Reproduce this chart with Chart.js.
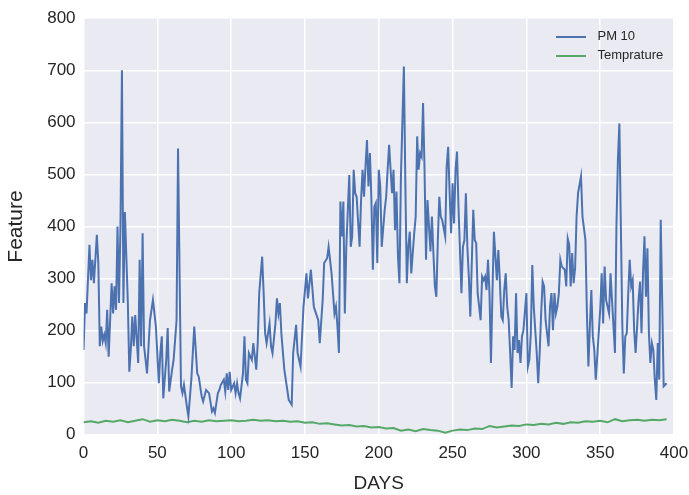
<!DOCTYPE html>
<html lang="en">

<head>
    <meta charset="UTF-8">
    <title>PM 10 y Temperatura</title>
    <script src="https://cdn.jsdelivr.net/npm/chart.js"></script>
    <style>
        body { margin: 0; background: #fff; }
        .container { width: 689px; height: 495px; }
    </style>
</head>

<body>
    <div class="container">
        <canvas id="grafica"></canvas>
    </div>

    <script>
        // PM 10 readings (day -> value)
        const days = [0,1,2,4,5,6,7,9,10,11,12,13,14,15,16,17,19,20,21,22,23,24,25,26,27,28,30,31,32,33,34,35,37,38,39,40,41,43,45,47,49,51,52,53,54,56,57,58,60,61,63,64,66,67,68,70,71,73,75,77,78,80,81,83,85,87,88,89,91,92,93,95,96,97,98,99,100,102,103,104,105,106,108,109,110,111,112,114,115,117,118,119,121,122,123,124,126,127,128,130,131,132,133,134,136,137,139,141,142,144,145,147,149,151,152,154,156,157,159,160,162,163,165,166,168,170,171,172,173,174,175,176,177,178,180,181,182,183,184,185,187,188,189,190,191,192,193,194,195,196,197,198,199,200,201,202,204,205,206,207,208,209,210,211,212,213,214,215,217,218,219,220,221,222,224,225,226,227,228,229,230,231,232,233,235,236,237,238,239,240,241,242,243,245,246,247,248,249,250,251,252,253,254,256,257,258,259,260,261,262,264,265,266,267,269,270,271,272,273,274,275,276,277,278,280,281,282,283,284,285,286,287,288,289,290,291,292,293,294,295,296,297,298,300,301,302,303,304,305,307,308,309,310,311,312,313,315,316,317,318,319,320,321,322,323,324,326,327,328,329,330,331,332,333,334,335,337,338,340,341,342,343,344,345,346,347,349,350,351,352,353,354,356,357,358,359,360,361,362,363,364,365,366,367,368,369,370,371,372,373,374,375,376,377,378,379,380,381,382,383,384,385,386,387,388,389,390,391,392,393,394,395];
        const pm10 = [163,253,233,365,297,336,291,384,330,170,208,180,192,176,240,150,291,233,285,240,400,253,400,700,253,428,253,121,163,227,170,230,138,336,170,387,170,118,220,259,208,99,157,189,70,144,205,83,125,144,220,550,93,80,96,54,35,106,208,118,112,74,64,86,80,45,51,42,80,86,96,106,83,118,86,121,86,99,80,99,80,70,118,189,106,99,157,144,176,125,176,272,342,272,195,176,214,170,157,214,262,233,253,195,125,106,67,58,157,211,157,131,246,310,262,317,246,237,220,176,259,330,339,361,310,233,246,208,157,448,381,448,233,361,499,361,381,509,464,457,361,451,509,457,515,566,477,541,451,317,438,445,330,509,477,361,432,457,509,557,509,464,509,393,467,342,291,496,707,483,291,361,390,310,387,419,573,509,541,534,637,509,336,451,352,419,349,285,265,374,457,419,412,381,515,553,464,387,483,406,509,544,438,272,361,374,464,361,304,227,432,374,368,272,220,304,297,304,278,336,272,138,272,390,297,355,297,227,220,278,310,246,220,157,90,189,163,272,157,182,138,189,201,272,131,144,195,326,246,157,99,157,233,294,285,220,170,246,272,201,272,233,246,272,336,323,317,285,377,365,285,349,291,320,419,464,496,419,374,233,131,208,278,189,163,106,195,240,310,214,323,259,233,310,259,208,157,400,528,598,400,208,118,189,195,272,336,285,297,201,157,208,259,294,195,310,381,265,358,195,138,176,163,106,67,176,106,413,259,93,96,99];

        // Temperature readings, every 5 days
        const tempDays = [0,5,10,15,20,25,30,35,40,45,50,55,60,65,70,75,80,85,90,95,100,105,110,115,120,125,130,135,140,145,150,155,160,165,170,175,180,185,190,195,200,205,210,215,220,225,230,235,240,245,250,255,260,265,270,275,280,285,290,295,300,305,310,315,320,325,330,335,340,345,350,355,360,365,370,375,380,385,390,395];
        const temperature = [24,26,23,27,25,28,24,27,30,25,28,26,29,27,24,27,25,28,26,27,28,26,27,29,27,28,26,27,25,26,23,24,21,22,20,18,19,16,17,14,15,12,13,8,10,7,11,9,8,4,8,10,9,12,11,17,14,16,18,17,20,19,21,20,23,21,24,23,26,25,27,24,30,26,28,29,27,29,28,30];

        const xTicks = [0, 50, 100, 150, 200, 250, 300, 350, 400];
        const yTicks = [0, 100, 200, 300, 400, 500, 600, 700, 800];

        const textColor = '#262626';
        const fuente = 'Liberation Sans, Arial, sans-serif';

        // muestra de linea para la leyenda (30px de largo)
        function muestraLinea(color) {
            const c = document.createElement('canvas');
            c.width = 30;
            c.height = 2;
            const g = c.getContext('2d');
            g.fillStyle = color;
            g.fillRect(0, 0, 30, 2);
            return c;
        }

        // fondo gris del area de la grafica (estilo seaborn)
        const fondoArea = {
            id: 'fondoArea',
            beforeDraw(chart) {
                const { ctx, chartArea } = chart;
                ctx.save();
                ctx.fillStyle = '#EAEAF2';
                ctx.fillRect(chartArea.left, chartArea.top, chartArea.width, chartArea.height);
                ctx.restore();
            }
        };

        // mover la leyenda a la esquina superior derecha
        const leyendaDerecha = {
            id: 'leyendaDerecha',
            afterLayout(chart) {
                const lg = chart.legend;
                const a = chart.chartArea;
                lg.left = a.right - 129;
                lg.right = lg.left + lg.width;
                lg.top = a.top + 6;
            }
        };

        const ctx = document.getElementById('grafica').getContext('2d');
        new Chart(ctx, {
            type: 'line',
            data: {
                datasets: [{
                    label: 'PM 10',
                    data: pm10.map((v, i) => ({ x: days[i], y: v })),
                    borderColor: '#4C72B0',
                    borderWidth: 2,
                    pointRadius: 0,
                    pointStyle: muestraLinea('#4C72B0'),
                    tension: 0
                }, {
                    label: 'Temprature',
                    data: temperature.map((v, i) => ({ x: tempDays[i], y: v })),
                    borderColor: '#55A868',
                    borderWidth: 2,
                    pointRadius: 0,
                    pointStyle: muestraLinea('#55A868'),
                    tension: 0
                }]
            },
            options: {
                responsive: true,
                maintainAspectRatio: false,
                animation: false,
                layout: { padding: { top: 18, right: 0, bottom: 0, left: 0 } },
                scales: {
                    x: {
                        type: 'linear',
                        min: 0,
                        max: 400,
                        afterBuildTicks: axis => { axis.ticks = xTicks.map(v => ({ value: v })); },
                        afterFit: axis => { axis.paddingRight = 15; },
                        ticks: { color: textColor, font: { family: fuente, size: 17 }, padding: 8, maxRotation: 0 },
                        grid: { color: '#ffffff', lineWidth: 1.5, drawTicks: false },
                        border: { display: false },
                        title: { display: true, text: 'DAYS', color: textColor, font: { family: fuente, size: 19 }, padding: { top: 1, bottom: 0 } }
                    },
                    y: {
                        min: 0,
                        max: 800,
                        afterBuildTicks: axis => { axis.ticks = yTicks.map(v => ({ value: v })); },
                        ticks: { color: textColor, font: { family: fuente, size: 17 }, padding: 8 },
                        grid: { color: '#ffffff', lineWidth: 1.5, drawTicks: false },
                        border: { display: false },
                        title: { display: true, text: 'Feature', color: textColor, font: { family: fuente, size: 21 }, padding: { top: 4, bottom: 10 } }
                    }
                },
                plugins: {
                    legend: {
                        position: 'chartArea',
                        align: 'start',
                        labels: {
                            color: textColor,
                            font: { family: fuente, size: 13 },
                            usePointStyle: true,
                            pointStyleWidth: 40,
                            padding: 6
                        }
                    },
                    tooltip: { enabled: false }
                }
            },
            plugins: [fondoArea, leyendaDerecha]
        });
    </script>
</body>

</html>
